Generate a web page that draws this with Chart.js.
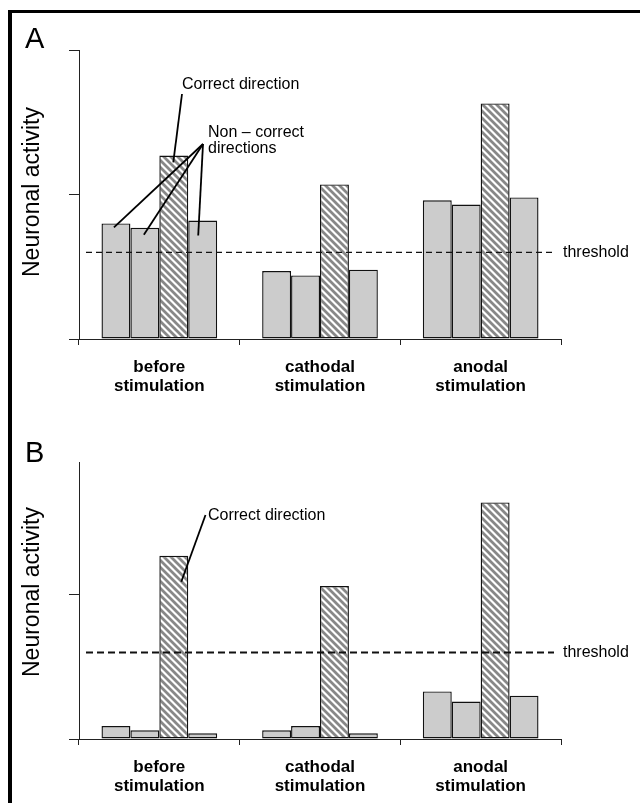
<!DOCTYPE html>
<html>
<head>
<meta charset="utf-8">
<script src="https://cdn.jsdelivr.net/npm/chart.js@4"></script>
<style>
  html, body { margin: 0; padding: 0; background: #fff; }
  #wrap { position: relative; width: 640px; height: 803px; overflow: hidden; }
  #frame { position: absolute; left: 8px; top: 10px; width: 700px; height: 900px;
           border-top: 3px solid #000; border-left: 4px solid #000; pointer-events: none; }
  canvas { position: absolute; left: 0; }
</style>
</head>
<body>
<div id="wrap">
  <canvas id="chartA" width="640" height="400" style="top:0;width:640px;height:400px"></canvas>
  <canvas id="chartB" width="640" height="403" style="top:400px;width:640px;height:403px"></canvas>
  <div id="frame"></div>
</div>
<script>
var categories = [["before", "stimulation"], ["cathodal", "stimulation"], ["anodal", "stimulation"]];
var seriesNames = ["non-correct 1", "non-correct 2", "correct direction", "non-correct 3"];
var threshold = 0.6;

// panel A
var nonCorrect1A = [0.80, 0.47, 0.96];
var nonCorrect2A = [0.77, 0.44, 0.93];
var correctA = [1.27, 1.07, 1.63];
var nonCorrect3A = [0.82, 0.48, 0.98];

// panel B
var nonCorrect1B = [0.09, 0.06, 0.33];
var nonCorrect2B = [0.06, 0.09, 0.26];
var correctB = [1.27, 1.06, 1.64];
var nonCorrect3B = [0.04, 0.04, 0.30];

var FONT = '"Liberation Sans", Arial, Helvetica, sans-serif';
Chart.defaults.font.family = FONT;
Chart.defaults.color = "#000";

function hatch() {
  var c = document.createElement("canvas");
  c.width = 7;
  c.height = 7;
  var g = c.getContext("2d");
  g.fillStyle = "#fff";
  g.fillRect(0, 0, 7, 7);
  g.strokeStyle = "#888";
  g.lineWidth = 2.8;
  g.beginPath();
  g.moveTo(-1, -1); g.lineTo(8, 8);
  g.moveTo(-1, 6); g.lineTo(1, 8);
  g.moveTo(6, -1); g.lineTo(8, 1);
  g.stroke();
  return g.createPattern(c, "repeat");
}

function notesPlugin(p) {
  return {
    id: "notes" + p.letter,
    afterDraw: function (chart) {
      var g = chart.ctx;
      var area = chart.chartArea;
      var ty = chart.scales.y.getPixelForValue(threshold);
      g.save();
      g.fillStyle = "#000";

      g.font = "29px " + FONT;
      g.textAlign = "left";
      g.textBaseline = "alphabetic";
      g.fillText(p.letter, 25, p.letterY);

      g.save();
      g.translate(33, 192);
      g.rotate(-Math.PI / 2);
      g.font = "23px " + FONT;
      g.textAlign = "center";
      g.textBaseline = "middle";
      g.fillText("Neuronal activity", 0, 0);
      g.restore();

      // threshold line
      g.strokeStyle = "#111";
      g.lineWidth = p.dashWidth;
      g.setLineDash(p.dash);
      g.beginPath();
      g.moveTo(area.left + 7, ty);
      g.lineTo(area.right - 7, ty);
      g.stroke();
      g.setLineDash([]);
      g.font = "16px " + FONT;
      g.textBaseline = "middle";
      g.fillText("threshold", area.right + 2, ty);

      // callouts
      p.callouts.forEach(function (c) {
        c.lines.forEach(function (t, i) {
          g.fillText(t, c.x, c.y + i * 16);
        });
        g.strokeStyle = "#000";
        g.lineWidth = 1.8;
        c.targets.forEach(function (t) {
          var el = chart.getDatasetMeta(t[0]).data[t[1]];
          g.beginPath();
          g.moveTo(c.hub[0], c.hub[1]);
          g.lineTo(el.x + t[2], el.y + t[3]);
          g.stroke();
        });
      });
      g.restore();
    }
  };
}

function makeChart(id, sets, p) {
  var pattern = hatch();
  var fills = ["#cccccc", "#cccccc", pattern, "#cccccc"];
  var ctx = document.getElementById(id).getContext("2d");
  return new Chart(ctx, {
    type: "bar",
    data: {
      labels: categories,
      datasets: sets.map(function (d, i) {
        return {
          label: seriesNames[i],
          data: d,
          backgroundColor: fills[i],
          borderColor: "#111",
          borderWidth: 1.4,
          borderSkipped: false,
          categoryPercentage: 0.72,
          barPercentage: 1.0,
        };
      }),
    },
    options: {
      responsive: false,
      maintainAspectRatio: false,
      animation: false,
      layout: { padding: { top: p.top, right: 79, left: 0, bottom: 0 } },
      plugins: { legend: { display: false }, tooltip: { enabled: false } },
      scales: {
        x: {
          grid: { offset: true, drawOnChartArea: false, tickLength: 6, color: "#222" },
          border: { color: "#222", width: 1 },
          ticks: {
            font: { size: 17, weight: "bold", lineHeight: "19px" },
            padding: 13,
            maxRotation: 0,
          },
          afterFit: function (s) { s.height = p.xHeight; },
        },
        y: {
          min: 0,
          max: p.yMax,
          ticks: { stepSize: 1, display: false, includeBounds: false },
          grid: { drawOnChartArea: false, tickLength: 10, color: "#222" },
          border: { color: "#222", width: 1 },
          afterFit: function (s) { s.width = 79; },
        },
      },
    },
    plugins: [notesPlugin(p)],
  });
}

makeChart("chartA", [nonCorrect1A, nonCorrect2A, correctA, nonCorrect3A], {
  letter: "A", letterY: 48, top: 50, xHeight: 61, yMax: 2,
  dash: [6, 4], dashWidth: 1.2,
  callouts: [
    { lines: ["Correct direction"], x: 182, y: 85, hub: [182, 94], targets: [[2, 0, -0.5, 7]] },
    { lines: ["Non \u2013 correct", "directions"], x: 208, y: 133, hub: [203, 144],
      targets: [[0, 0, -2, 4], [1, 0, -1, 7], [3, 0, -4.5, 15]] },
  ],
});

makeChart("chartB", [nonCorrect1B, nonCorrect2B, correctB, nonCorrect3B], {
  letter: "B", letterY: 62, top: 62, xHeight: 64, yMax: 1.92,
  dash: [7, 4], dashWidth: 2,
  callouts: [
    { lines: ["Correct direction"], x: 208, y: 116, hub: [205.5, 115], targets: [[2, 0, 7.5, 26]] },
  ],
});
</script>
</body>
</html>
